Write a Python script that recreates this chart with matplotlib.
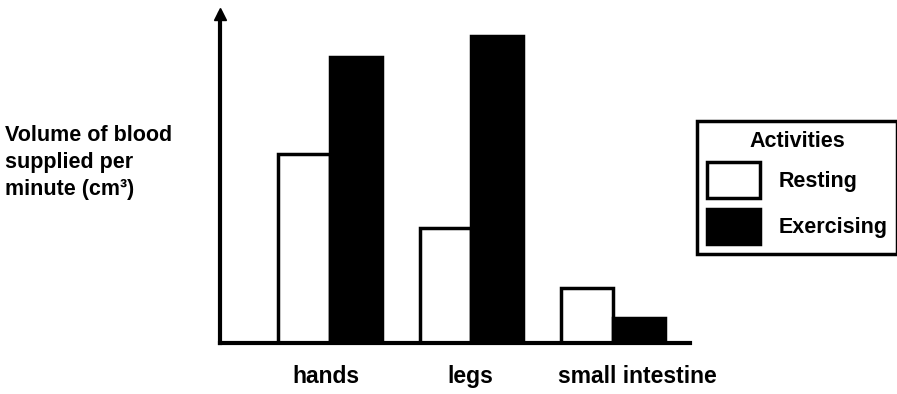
import matplotlib
matplotlib.use("Agg")
import matplotlib.pyplot as plt
import numpy as np

plt.rcParams['font.family'] = ['Liberation Sans', 'DejaVu Sans']
plt.rcParams['font.weight'] = 'bold'

organs = ['hands', 'legs', 'small intestine']
resting = [189, 115, 55]
exercising = [286, 307, 25]

W, H = 897, 394
fig = plt.figure(figsize=(W / 100, H / 100), dpi=100)
ax = fig.add_axes([220 / W, (H - 343) / H, 470 / W, 329 / H])

x = np.arange(len(organs))
w = 0.367
ax.bar(x - w / 2, resting, w, color='white', edgecolor='black', linewidth=2.5, label='Resting')
ax.bar(x + w / 2, exercising, w, color='black', edgecolor='black', linewidth=2.5, label='Exercising')

ax.set_xlim(-0.777, 2.544)
ax.set_ylim(0, 329)
for s in ['top', 'right']:
    ax.spines[s].set_visible(False)
for s in ['left', 'bottom']:
    ax.spines[s].set_linewidth(3)
ax.set_yticks([])
# labels sit slightly off the group centres in the original
ax.set_xticks(x + np.array([-0.03, -0.01, 0.17]))
ax.set_xticklabels(organs, fontsize=16.5, fontweight='bold')
ax.tick_params(axis='x', length=0, pad=16)

# arrow head on the y axis
ax.plot([0], [1], marker='^', markersize=8, color='black', transform=ax.transAxes, clip_on=False)

fig.text(5 / W, 1 - 125 / H, 'Volume of blood\nsupplied per\nminute (cm³)', fontsize=15.5,
         fontweight='bold', ha='left', va='top', linespacing=1.37)

leg = ax.legend(title='Activities', loc='upper left', bbox_to_anchor=(697 / W, 1 - 121 / H),
                bbox_transform=fig.transFigure, fontsize=15.5, frameon=True, fancybox=False,
                edgecolor='black', framealpha=1, handlelength=2.47, handleheight=2.15,
                handletextpad=0.85, labelspacing=0.5, borderpad=0.45, borderaxespad=0,
                title_fontproperties={'weight': 'bold', 'size': 15.5})
leg.get_frame().set_linewidth(2.5)

fig.savefig('out.png', dpi=100)
